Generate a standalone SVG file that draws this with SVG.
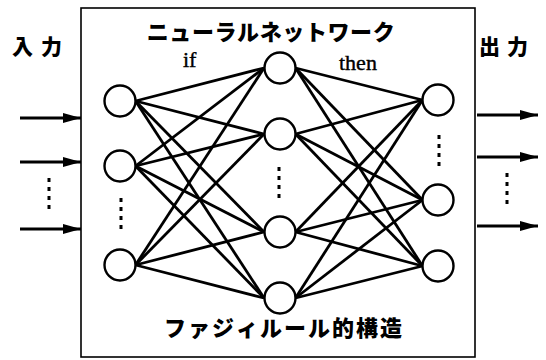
<svg xmlns="http://www.w3.org/2000/svg" width="546" height="360" viewBox="0 0 546 360">
<style>
.jp{font-family:"Noto Sans CJK JP","Noto Sans",sans-serif;font-weight:900;fill:#000}
.en{font-family:"Liberation Serif",serif;font-size:22px;fill:#000;stroke:#000;stroke-width:0.4}
.node{fill:#fff;stroke:#000;stroke-width:2.4}
.edge{stroke:#000;stroke-width:2.8;fill:none}
.arr{stroke:#000;stroke-width:2.8;fill:none}
.dots{stroke:#000;stroke-width:3;stroke-dasharray:4 5;fill:none}
</style>
<defs>
<marker id="ah" markerWidth="18" markerHeight="10" refX="18" refY="5" orient="auto" markerUnits="userSpaceOnUse">
<path d="M0,0 L18,5 L0,10 Z" fill="#000"/>
</marker>
</defs>
<rect x="0" y="0" width="546" height="360" fill="#fff"/>
<g id="box"><rect x="81" y="8" width="394" height="349" fill="none" stroke="#000" stroke-width="1.6"/></g>
<text class="jp" x="12" y="54" font-size="21" letter-spacing="8">入力</text>
<text class="jp" x="479" y="54" font-size="21" letter-spacing="7">出力</text>
<text class="jp" x="271" y="40" font-size="22" text-anchor="middle" letter-spacing="0.6">ニューラルネットワーク</text>
<text class="jp" x="284" y="336" font-size="22" text-anchor="middle" letter-spacing="2">ファジィルール的構造</text>
<text class="en" x="183" y="67">if</text>
<text class="en" x="339" y="70">then</text>
<g id="connectors">
<g id="inputs">
<line class="arr" x1="20" y1="118" x2="81" y2="118" marker-end="url(#ah)"/>
<line class="arr" x1="20" y1="162" x2="81" y2="162" marker-end="url(#ah)"/>
<line class="arr" x1="20" y1="229" x2="81" y2="229" marker-end="url(#ah)"/>
</g>
<g id="outputs">
<line class="arr" x1="477" y1="115" x2="538" y2="115" marker-end="url(#ah)"/>
<line class="arr" x1="477" y1="157" x2="538" y2="157" marker-end="url(#ah)"/>
<line class="arr" x1="477" y1="226" x2="538" y2="226" marker-end="url(#ah)"/>
</g>
<g id="if-edges">
<line class="edge" x1="135.5" y1="101" x2="264" y2="68"/>
<line class="edge" x1="135.5" y1="101" x2="264" y2="134"/>
<line class="edge" x1="135.5" y1="101" x2="264" y2="232"/>
<line class="edge" x1="135.5" y1="101" x2="264" y2="298"/>
<line class="edge" x1="135.5" y1="166" x2="264" y2="68"/>
<line class="edge" x1="135.5" y1="166" x2="264" y2="134"/>
<line class="edge" x1="135.5" y1="166" x2="264" y2="232"/>
<line class="edge" x1="135.5" y1="166" x2="264" y2="298"/>
<line class="edge" x1="135.5" y1="265" x2="264" y2="68"/>
<line class="edge" x1="135.5" y1="265" x2="264" y2="134"/>
<line class="edge" x1="135.5" y1="265" x2="264" y2="232"/>
<line class="edge" x1="135.5" y1="265" x2="264" y2="298"/>
</g>
<g id="then-edges">
<line class="edge" x1="295.5" y1="68" x2="422.5" y2="100"/>
<line class="edge" x1="295.5" y1="68" x2="422.5" y2="200"/>
<line class="edge" x1="295.5" y1="68" x2="422.5" y2="266"/>
<line class="edge" x1="295.5" y1="134" x2="422.5" y2="100"/>
<line class="edge" x1="295.5" y1="134" x2="422.5" y2="200"/>
<line class="edge" x1="295.5" y1="134" x2="422.5" y2="266"/>
<line class="edge" x1="295.5" y1="232" x2="422.5" y2="100"/>
<line class="edge" x1="295.5" y1="232" x2="422.5" y2="200"/>
<line class="edge" x1="295.5" y1="232" x2="422.5" y2="266"/>
<line class="edge" x1="295.5" y1="298" x2="422.5" y2="100"/>
<line class="edge" x1="295.5" y1="298" x2="422.5" y2="200"/>
<line class="edge" x1="295.5" y1="298" x2="422.5" y2="266"/>
</g>
</g>
<g id="ellipses">
<line class="dots" x1="49" y1="178" x2="49" y2="210"/>
<line class="dots" x1="121" y1="198" x2="121" y2="230"/>
<line class="dots" x1="279" y1="167" x2="279" y2="199"/>
<line class="dots" x1="439" y1="135" x2="439" y2="167"/>
<line class="dots" x1="507" y1="173" x2="507" y2="205"/>
</g>
<g id="in1"><circle class="node" cx="120" cy="101" r="15.5"/></g>
<g id="in2"><circle class="node" cx="120" cy="166" r="15.5"/></g>
<g id="in3"><circle class="node" cx="120" cy="265" r="15.5"/></g>
<g id="h1"><circle class="node" cx="280" cy="68" r="15.5"/></g>
<g id="h2"><circle class="node" cx="280" cy="134" r="15.5"/></g>
<g id="h3"><circle class="node" cx="280" cy="232" r="15.5"/></g>
<g id="h4"><circle class="node" cx="280" cy="298" r="15.5"/></g>
<g id="out1"><circle class="node" cx="438" cy="100" r="15.5"/></g>
<g id="out2"><circle class="node" cx="438" cy="200" r="15.5"/></g>
<g id="out3"><circle class="node" cx="438" cy="266" r="15.5"/></g>
</svg>
